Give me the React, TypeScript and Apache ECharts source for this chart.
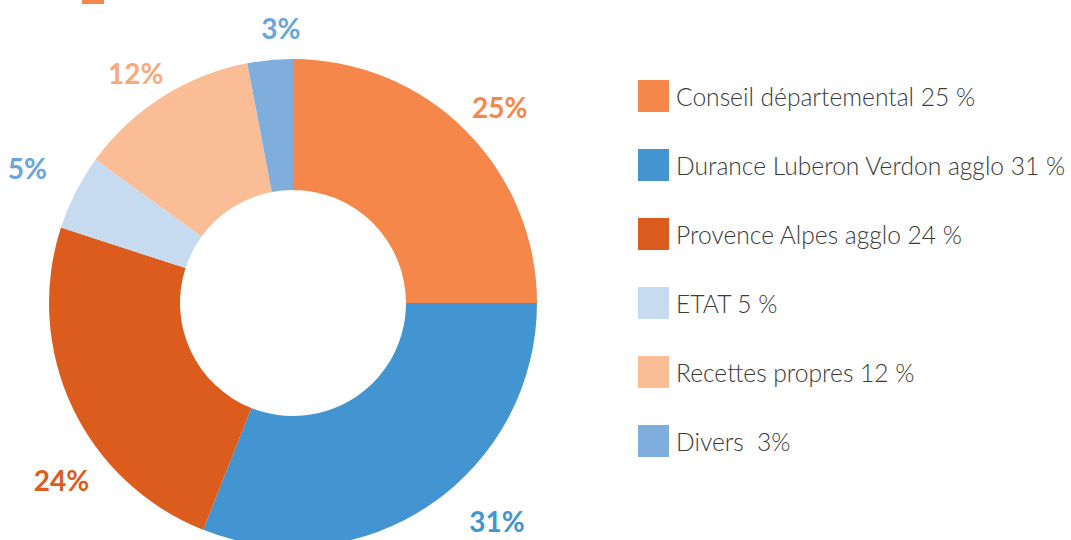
import React, { useEffect, useRef } from "react";
import * as echarts from "echarts";

const categories = [
  "Conseil départemental 25 %",
  "Durance Luberon Verdon agglo 31 %",
  "Provence Alpes agglo 24 %",
  "ETAT 5 %",
  "Recettes propres 12 %",
  "Divers  3%",
];
const values = [25, 31, 24, 5, 12, 3];
const sliceColors = ["#F5874A", "#4395D1", "#DC5C1E", "#C6DBF0", "#FABD95", "#7FADDC"];
const labelColors = ["#F5874A", "#4395D1", "#DC5C1E", "#6AA5DB", "#F9A97C", "#6AA5DB"];
const labelOffsets: [number, number][] = [
  [3, 8],
  [42, -20],
  [29, 54],
  [-9, -4],
  [-3, 13],
  [15, 12],
];

export default function App() {
  const ref = useRef<HTMLDivElement>(null);
  useEffect(() => {
    if (!ref.current) return;
    const chart = echarts.init(ref.current, undefined, { renderer: "svg" });
    chart.setOption({
      animation: false,
      backgroundColor: "#ffffff",
      legend: {
        orient: "vertical",
        left: 638,
        top: 80,
        padding: 0,
        itemWidth: 31,
        itemHeight: 32,
        itemGap: 37,
        icon: "rect",
        data: categories,
        selectedMode: false,
        textStyle: {
          fontFamily: "Lato",
          fontWeight: 300,
          fontSize: 24.6,
          color: "#3a3a3a",
          padding: [0, 0, 0, 2],
        },
      },
      graphic: [
        {
          type: "rect",
          left: 82,
          top: 0,
          shape: { width: 22, height: 4 },
          style: { fill: "#F5874A" },
        },
      ],
      series: [
        {
          type: "pie",
          center: [293, 303],
          radius: [113, 244],
          startAngle: 90,
          clockwise: true,
          label: { show: false },
          labelLine: { show: false },
          silent: true,
          data: categories.map((name, i) => ({
            name,
            value: values[i],
            itemStyle: { color: sliceColors[i] },
          })),
        },
        {
          type: "pie",
          center: [293, 303],
          radius: [270, 300],
          startAngle: 90,
          clockwise: true,
          silent: true,
          itemStyle: { color: "rgba(0,0,0,0)" },
          labelLine: { show: false },
          label: {
            show: true,
            position: "inside",
            fontFamily: "Lato",
            fontWeight: "bold",
            fontSize: 28,
            formatter: (p: any) => `${p.value}%`,
          },
          data: categories.map((name, i) => ({
            name,
            value: values[i],
            label: { color: labelColors[i], offset: labelOffsets[i] },
          })),
        },
      ],
    });
    return () => chart.dispose();
  }, []);
  return (
    <div
      ref={ref}
      style={{ position: "fixed", left: 0, top: 0, width: 1071, height: 540 }}
    />
  );
}
